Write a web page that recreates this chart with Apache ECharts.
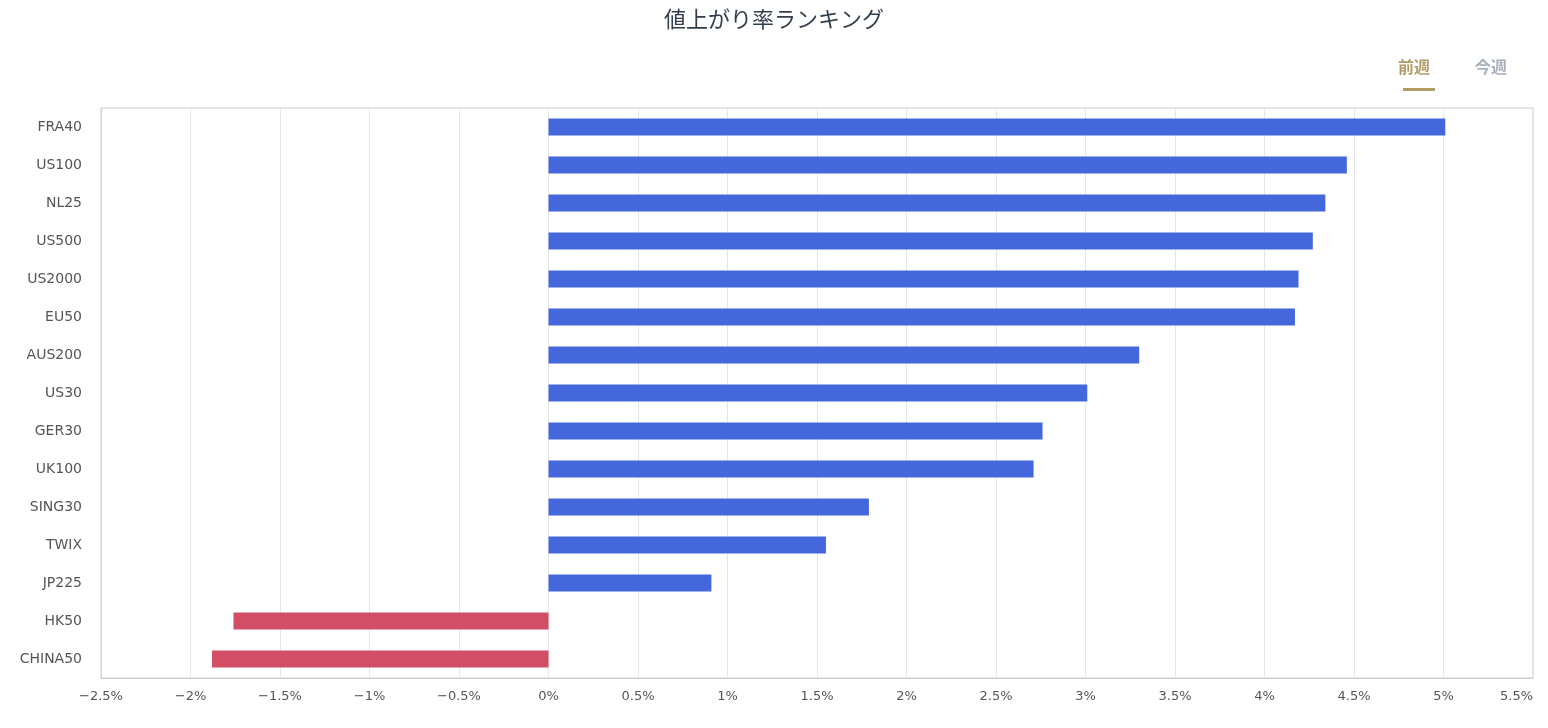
<!DOCTYPE html>
<html><head><meta charset="utf-8">
<script src="https://cdn.jsdelivr.net/npm/echarts@6/dist/echarts.min.js"></script>
<style>html,body{margin:0;padding:0;background:#fff}#c{width:1548px;height:728px}</style>
</head><body><div id="c"></div>
<script>
const categories = ['FRA40','US100','NL25','US500','US2000','EU50','AUS200','US30','GER30','UK100','SING30','TWIX','JP225','HK50','CHINA50'];
const values = [5.01, 4.46, 4.34, 4.27, 4.19, 4.17, 3.30, 3.01, 2.76, 2.71, 1.79, 1.55, 0.91, -1.76, -1.88];
const seriesNames = ['前週','今週'];
const fmtPct = v => (v < 0 ? '\u2212' + Math.abs(v) : v) + '%';

const chart = echarts.init(document.getElementById('c'));
chart.setOption({
  animation: false,
  title: {text: '値上がり率ランキング', left: 'center', top: 3,
    textStyle: {fontSize: 22, fontWeight: 'normal', color: '#333e4d', fontFamily: 'Noto Sans CJK JP'}},
  legend: {
    data: seriesNames, right: 41, top: 59, icon: 'none', itemGap: 40, itemWidth: 0, itemHeight: 0,
    padding: 0,
    selected: {'前週': true, '今週': false},
    textStyle: {fontSize: 16, fontWeight: 'bold', color: '#b09c64', fontFamily: 'Noto Sans CJK JP', padding: 0},
    inactiveColor: '#a6b0ba'
  },
  graphic: [{type: 'rect', left: 1403, top: 88, shape: {width: 32, height: 3}, style: {fill: '#b09c64'}}],
  grid: {left: 101, right: 15, top: 108, bottom: 50, show: true, borderColor: '#cccccc', borderWidth: 1,
    outerBoundsMode: 'none', containLabel: false},
  xAxis: {
    type: 'value', min: -2.5, max: 5.5, interval: 0.5,
    axisLine: {show: true, lineStyle: {color: '#cccccc'}},
    axisTick: {show: false},
    splitLine: {show: true, lineStyle: {color: '#e6e6e6'}},
    axisLabel: {formatter: fmtPct, color: '#555', fontSize: 13, margin: 12, fontFamily: 'DejaVu Sans',
      alignMaxLabel: 'right'}
  },
  yAxis: {
    type: 'category', data: categories, inverse: true,
    axisLine: {show: true, onZero: false, lineStyle: {color: '#ccd6eb'}},
    axisTick: {show: false},
    axisLabel: {color: '#555', fontSize: 14, margin: 19, fontFamily: 'DejaVu Sans'}
  },
  series: [
    {name: seriesNames[0], type: 'bar', barWidth: 17,
      data: values.map(v => ({value: v, itemStyle: {color: v < 0 ? '#d24d66' : '#4468dc'}})),
      itemStyle: {color: '#4468dc'}},
    {name: seriesNames[1], type: 'bar', data: [], itemStyle: {color: '#a6b0ba'}}
  ]
});
</script></body></html>
